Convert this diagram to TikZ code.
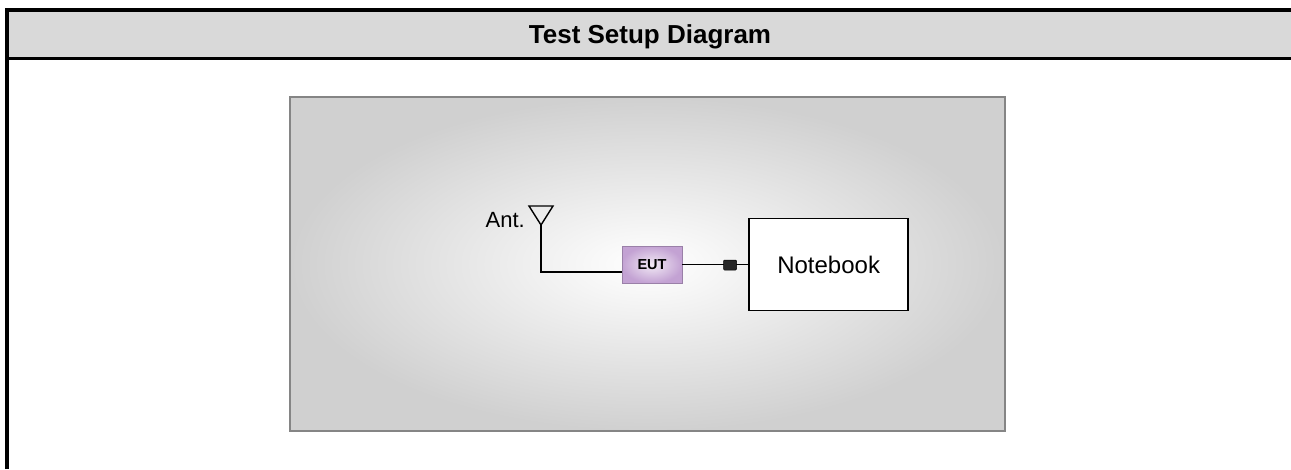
\documentclass[tikz,border=0pt]{standalone}
\usepackage{fontspec}
\setmainfont{Liberation Sans}
\usetikzlibrary{calc,positioning}
\definecolor{headgray}{HTML}{D9D9D9}
\definecolor{panelgray}{HTML}{D0D0D0}
\definecolor{panelline}{HTML}{858585}
\definecolor{eutpurple}{HTML}{C3A2D3}
\definecolor{eutlight}{HTML}{F2EAF5}
\definecolor{eutline}{HTML}{9A80A8}
\tikzstyle{frame} = [line width=4pt]
\tikzstyle{wire} = [line width=1.4pt]
\tikzstyle{panel} = [draw=panelline, line width=2pt, inner color=white, outer color=panelgray, minimum width=715pt, minimum height=334pt]
\tikzstyle{eutbox} = [draw=eutline, line width=0.8pt, inner color=eutlight, outer color=eutpurple, minimum width=60pt, minimum height=37pt, inner sep=0pt, font=\bfseries\fontsize{14.5}{16}\selectfont]
\tikzstyle{pcbox} = [draw, line width=1.5pt, fill=white, minimum width=159pt, minimum height=92pt, font=\fontsize{24}{27}\selectfont]
\tikzstyle{port} = [fill=black!85, draw=black, line width=0.5pt, rounded corners=1pt, minimum width=13pt, minimum height=10pt, inner sep=0pt]

\begin{document}
\begin{tikzpicture}[x=1pt,y=-1pt]
\useasboundingbox (0,0) rectangle (1291,469);
% table header
\fill[headgray] (9,12) rectangle (1291,57);
\draw[frame] (7,469) -- (7,10) -- (1291,10);
\draw[line width=3pt] (9,58.5) -- (1291,58.5);
\node[anchor=base, inner sep=0pt, font=\bfseries\fontsize{26}{30}\selectfont] (title) at (650,43) {Test Setup Diagram};

% setup
\node[panel] (panel) at (647.5,264) {};
\node[eutbox] (eut) at (652,264.5) {EUT};
\node[pcbox, right=66pt of eut] (notebook) {Notebook};
\coordinate (apex) at (541,225);
\draw[wire, line join=miter] (529,206) -- (553,206) -- (apex) -- cycle;
\node[anchor=base east, inner sep=0pt, font=\fontsize{22}{24}\selectfont] (ant) at (525,227) {Ant.};
\draw[wire] (apex) |- ([yshift=-7.5pt]eut.west);
\draw[wire] (eut.east) -- (notebook.west |- eut.east);
\node[port] (port) at (730,265) {};
\end{tikzpicture}
\end{document}
